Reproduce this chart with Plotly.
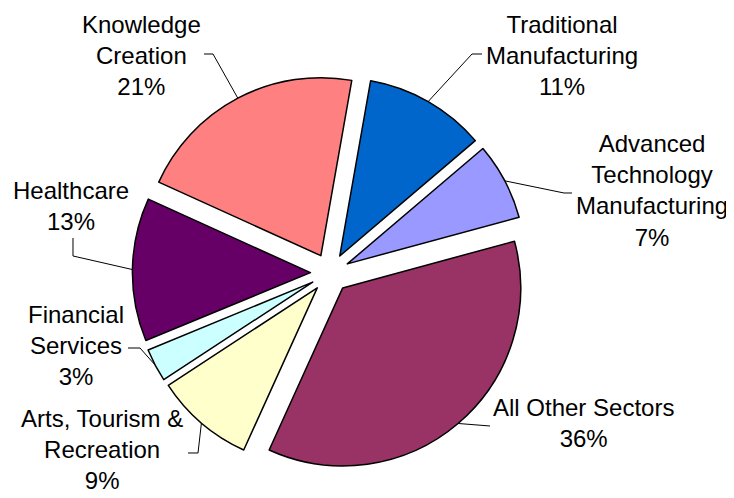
import math
import plotly.graph_objects as go

# ---- data ----
sectors = ["Traditional<br>Manufacturing", "Advanced<br>Technology<br>Manufacturing",
           "All Other Sectors", "Arts, Tourism &<br>Recreation", "Financial<br>Services",
           "Healthcare", "Knowledge<br>Creation"]
shares = [11, 7, 36, 9, 3, 13, 21]
colors = ["#0066CC", "#9999FF", "#993366", "#FFFFCC", "#CCFFFF", "#660066", "#FF8080"]

# ---- layout / label placement (screen pixels) ----
OFF = 8                      # page body margin
W, H = 726, 490              # figure size
CX, CY, RR = 330, 273, 197.6  # pie centre and outer extent incl. pull (screen px)
PULL = 0.11
ROT = 10
FONT = 24
label_pos = [(562, 56), (652, 190), (583, 423), (102, 449), (76, 345), (71, 206), (141, 56)]
leader_pts = [
    [(472, 54), (482, 54)],
    [(564, 193), (572, 193)],
    [(490, 426)],
    [(198, 453), (188, 453)],
    [(140, 348), (128, 348)],
    [(73, 256), (73, 238)],
    [(213, 54), (204, 54)],
]


def px(x):
    return (x - OFF) / W


def py(y):
    return 1 - (y - OFF) / H


xd = [px(CX - RR), px(CX + RR)]
yd = [py(CY + RR), py(CY - RR)]

fig = go.Figure(go.Pie(
    labels=sectors, values=shares, sort=False, direction="clockwise",
    rotation=ROT, pull=[PULL] * len(shares),
    marker=dict(colors=colors, line=dict(color="black", width=1.5)),
    textinfo="none", hoverinfo="label+percent", showlegend=False,
    domain=dict(x=xd, y=yd),
))

r = RR / (1 + PULL)
total = sum(shares)
cum = 0
shapes = []
annotations = []
for name, v, (lx, ly), pts in zip(sectors, shares, label_pos, leader_pts):
    mid = math.radians(ROT + (cum + v / 2) / total * 360)
    cum += v
    sx, sy = math.sin(mid), -math.cos(mid)
    ax = CX + sx * (PULL * r + r)
    ay = CY + sy * (PULL * r + r)
    path = [(ax, ay)] + pts
    d = "M " + " L ".join(f"{px(a):.5f},{py(b):.5f}" for a, b in path)
    shapes.append(dict(type="path", path=d, xref="paper", yref="paper",
                       line=dict(color="black", width=1)))
    pct = f"{round(v / total * 100)}%"
    annotations.append(dict(text=f"{name}<br>{pct}", x=px(lx), y=py(ly),
                            xref="paper", yref="paper", showarrow=False,
                            xanchor="center", yanchor="middle", align="center",
                            font=dict(family="Liberation Sans, Arial, sans-serif",
                                      size=FONT, color="black")))

fig.update_layout(width=W, height=H, margin=dict(l=0, r=0, t=0, b=0),
                  paper_bgcolor="white", plot_bgcolor="white",
                  shapes=shapes, annotations=annotations)
fig.write_html("out.html")
